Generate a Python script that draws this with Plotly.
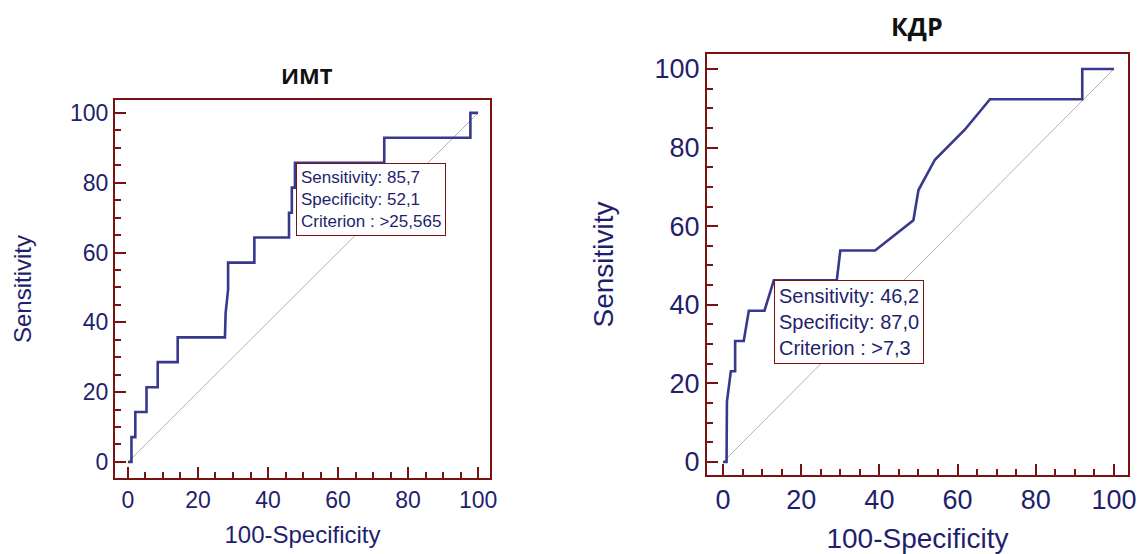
import plotly.graph_objects as go

# ---- data ----
imt_fpr = [0, 1.0, 1.0, 2.1, 2.1, 5.3, 5.3, 8.5, 8.5, 14.2, 14.2, 27.7, 27.9, 28.6, 28.6,
           36.1, 36.1, 46.0, 46.0, 46.8, 46.8, 47.7, 47.7, 73.2, 73.2, 97.8, 97.8, 100]
imt_sens = [0, 0, 7.1, 7.1, 14.3, 14.3, 21.4, 21.4, 28.6, 28.6, 35.7, 35.7, 42.7, 49.4, 57.1,
            57.1, 64.3, 64.3, 71.4, 71.4, 78.6, 78.6, 85.7, 85.7, 92.9, 92.9, 100, 100]
imt_stats = {"sens": 85.7, "spec": 52.1, "crit": ">25,565"}

kdr_fpr = [0, 0.9, 1.0, 2.0, 3.1, 3.1, 5.3, 6.6, 10.6, 13.0, 29.1, 30.0, 38.9, 48.7, 50.0,
           54.2, 61.9, 68.3, 91.9, 91.9, 100]
kdr_sens = [0, 0, 15.4, 23.1, 23.1, 30.8, 30.8, 38.5, 38.5, 46.2, 46.2, 53.8, 53.8, 61.5, 69.2,
            76.9, 84.6, 92.3, 92.3, 100, 100]
kdr_stats = {"sens": 46.2, "spec": 87.0, "crit": ">7,3"}

diag = [0, 100]
tick_vals = [0, 20, 40, 60, 80, 100]

titles = ["ИМТ", "КДР"]

# ---- styles ----
NAVY = "#1f1f6e"
CURVE = "#38388e"
FRAME = "#7a1212"
DIAG = "#b8b0b0"
FONT = "Liberation Sans, Arial, sans-serif"

fig = go.Figure()

panels = [
    dict(x=imt_fpr, y=imt_sens, st=imt_stats, xa="x", ya="y",
         xdom=[115 / 1140, 490 / 1140], ydom=[1 - 478 / 554, 1 - 100 / 554],
         xr=[-3.7, 103.4], yr=[-4.6, 103.7], tfs=23, afs=24, bfs=17,
         xstand=15, ystand=32, title=titles[0], tx=307 / 1140, ty=1 - 75 / 554, ttfs=22),
    dict(x=kdr_fpr, y=kdr_sens, st=kdr_stats, xa="x2", ya="y2",
         xdom=[707 / 1140, 1128 / 1140], ydom=[1 - 475 / 554, 1 - 54 / 554],
         xr=[-4.1, 103.6], yr=[-3.3, 103.8], tfs=27, afs=28, bfs=20,
         xstand=14, ystand=33, title=titles[1], tx=917 / 1140, ty=1 - 26 / 554, ttfs=25),
]

for i, p in enumerate(panels):
    fig.add_trace(go.Scatter(x=diag, y=diag, mode="lines", xaxis=p["xa"], yaxis=p["ya"],
                             line=dict(color=DIAG, width=1), hoverinfo="skip", showlegend=False))
    fig.add_trace(go.Scatter(x=p["x"], y=p["y"], mode="lines", xaxis=p["xa"], yaxis=p["ya"],
                             line=dict(color=CURVE, width=2.6), showlegend=False))
    sfx = "" if i == 0 else "2"
    common = dict(showline=True, mirror=True, linecolor=FRAME, linewidth=2,
                  ticks="inside", ticklen=11, tickwidth=2, tickcolor=FRAME,
                  tickvals=tick_vals, showgrid=False, zeroline=False,
                  minor=dict(dtick=5, tick0=0, ticks="inside", ticklen=6, tickwidth=1.5,
                             tickcolor=FRAME, showgrid=False),
                  tickfont=dict(family=FONT, size=p["tfs"], color=NAVY),
                  automargin=False, fixedrange=True)
    fig.update_layout(**{
        "xaxis" + sfx: dict(domain=p["xdom"], range=p["xr"], anchor="y" + sfx,
                            title=dict(text="100-Specificity", standoff=p["xstand"],
                                       font=dict(family=FONT, size=p["afs"], color=NAVY)),
                            **common),
        "yaxis" + sfx: dict(domain=p["ydom"], range=p["yr"], anchor="x" + sfx,
                            title=dict(text="Sensitivity", standoff=p["ystand"],
                                       font=dict(family=FONT, size=p["afs"], color=NAVY)),
                            **common),
    })
    st = p["st"]
    fig.add_annotation(
        x=round(100 - st["spec"], 1), y=st["sens"], xref=p["xa"], yref=p["ya"],
        xanchor="left", yanchor="top", align="left", showarrow=False,
        text=(f"Sensitivity: {st['sens']:.1f}".replace(".", ",") + "<br>"
              + f"Specificity: {st['spec']:.1f}".replace(".", ",") + "<br>"
              + f"Criterion : {st['crit']}"),
        font=dict(family=FONT, size=p["bfs"], color=NAVY),
        bgcolor="white", bordercolor=FRAME, borderwidth=1, borderpad=4)
    fig.add_annotation(x=p["tx"], y=p["ty"], xref="paper", yref="paper", showarrow=False,
                       text=f"<b>{p['title']}</b>", xanchor="center", yanchor="middle",
                       font=dict(family="Open Sans, sans-serif", size=p["ttfs"], color="#111111"))

fig.update_layout(width=1140, height=554, margin=dict(l=0, r=0, t=0, b=0),
                  paper_bgcolor="white", plot_bgcolor="white", showlegend=False)

fig.write_html("out.html")
